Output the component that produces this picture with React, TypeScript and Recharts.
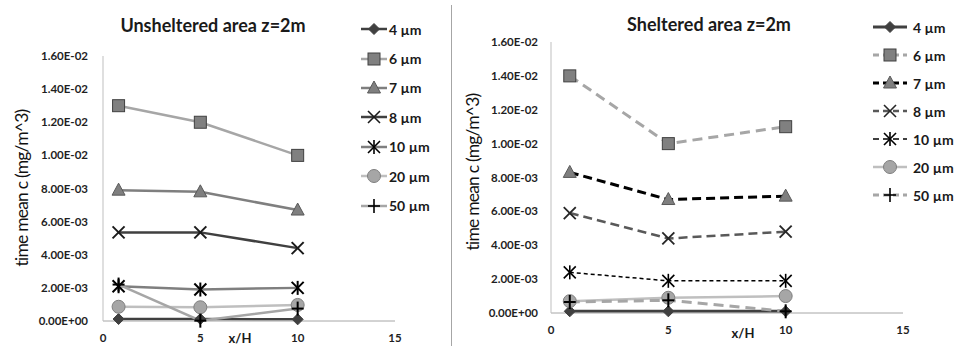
import React from 'react';
import { LineChart, Line, XAxis, YAxis, Legend } from 'recharts';

// x/H positions of the sampling points
const xValues = [0.8, 5, 10];
const sizeLabels = ['4 µm', '6 µm', '7 µm', '8 µm', '10 µm', '20 µm', '50 µm'];

const xTicks = [0, 5, 10, 15];
const yTicks = [0, 0.002, 0.004, 0.006, 0.008, 0.01, 0.012, 0.014, 0.016];

// unsheltered area, z = 2 m
const unsheltered4 = [0.00012, 0.00012, 0.0001];
const unsheltered6 = [0.013, 0.012, 0.01];
const unsheltered7 = [0.0079, 0.0078, 0.0067];
const unsheltered8 = [0.00535, 0.00535, 0.0044];
const unsheltered10 = [0.0021, 0.0019, 0.002];
const unsheltered20 = [0.00086, 0.00083, 0.00097];
const unsheltered50 = [0.0022, 0.00002, 0.00075];

// sheltered area, z = 2 m
const sheltered4 = [0.0001, 0.0001, 0.0001];
const sheltered6 = [0.014, 0.01, 0.011];
const sheltered7 = [0.0083, 0.0067, 0.0069];
const sheltered8 = [0.0059, 0.0044, 0.0048];
const sheltered10 = [0.0024, 0.0019, 0.0019];
const sheltered20 = [0.0007, 0.0009, 0.001];
const sheltered50 = [0.00065, 0.00075, 0.0001];

type Shape = 'diamond' | 'square' | 'triangle' | 'x' | 'star' | 'circle' | 'plus';

interface SeriesStyle {
  stroke: string;
  width: number;
  dash?: string;
  shape: Shape;
  fill: string;
  edge: string;
  markW?: number;
}

const unshelteredStyles: SeriesStyle[] = [
  { stroke: '#404040', width: 2.5, shape: 'diamond', fill: '#404040', edge: '#404040' },
  { stroke: '#a6a6a6', width: 2.5, shape: 'square', fill: '#808080', edge: '#404040' },
  { stroke: '#7f7f7f', width: 2.5, shape: 'triangle', fill: '#7f7f7f', edge: '#595959' },
  { stroke: '#404040', width: 2.5, shape: 'x', fill: 'none', edge: '#1a1a1a', markW: 2 },
  { stroke: '#7f7f7f', width: 2.5, shape: 'star', fill: 'none', edge: '#000', markW: 2 },
  { stroke: '#bfbfbf', width: 2.5, shape: 'circle', fill: '#a6a6a6', edge: '#7f7f7f' },
  { stroke: '#a6a6a6', width: 2.5, shape: 'plus', fill: 'none', edge: '#000', markW: 2 },
];

const shelteredStyles: SeriesStyle[] = [
  { stroke: '#404040', width: 3, shape: 'diamond', fill: '#404040', edge: '#404040' },
  { stroke: '#a6a6a6', width: 3, dash: '10 6', shape: 'square', fill: '#808080', edge: '#404040' },
  { stroke: '#000', width: 3, dash: '9 5', shape: 'triangle', fill: '#7f7f7f', edge: '#595959' },
  { stroke: '#595959', width: 2.5, dash: '9 5', shape: 'x', fill: 'none', edge: '#262626', markW: 1.8 },
  { stroke: '#000', width: 1.5, dash: '4 3', shape: 'star', fill: 'none', edge: '#000', markW: 1.6 },
  { stroke: '#bfbfbf', width: 2.5, shape: 'circle', fill: '#a6a6a6', edge: '#7f7f7f' },
  { stroke: '#a6a6a6', width: 3, dash: '10 6', shape: 'plus', fill: 'none', edge: '#000', markW: 2 },
];

const keys = ['d4', 'd6', 'd7', 'd8', 'd10', 'd20', 'd50'];

function buildRows(series: number[][]) {
  return xValues.map((x, i) => {
    const row: Record<string, number> = { x };
    series.forEach((s, j) => {
      row[keys[j]] = s[i];
    });
    return row;
  });
}

const unshelteredRows = buildRows([
  unsheltered4, unsheltered6, unsheltered7, unsheltered8, unsheltered10, unsheltered20, unsheltered50,
]);
const shelteredRows = buildRows([
  sheltered4, sheltered6, sheltered7, sheltered8, sheltered10, sheltered20, sheltered50,
]);

// Excel style scientific labels, e.g. 1.60E-02
function sci(v: number) {
  if (v === 0) return '0.00E+00';
  const [m, e] = v.toExponential(2).split('e');
  const n = parseInt(e, 10);
  return `${m}E${n < 0 ? '-' : '+'}${String(Math.abs(n)).padStart(2, '0')}`;
}

function AxisTick(props: any) {
  const { x, y, payload, textAnchor, vertical } = props;
  const label = vertical ? sci(payload.value) : String(payload.value);
  return (
    <text
      x={x}
      y={y}
      dy={vertical ? '0.35em' : '0.75em'}
      textAnchor={textAnchor}
      fill="#1f1f1f"
      fontSize={11.5}
      fontWeight={700}
    >
      {label}
    </text>
  );
}

function Marker({ cx, cy, s }: { cx: number; cy: number; s: SeriesStyle }) {
  const w = s.markW ?? 1;
  switch (s.shape) {
    case 'diamond':
      return (
        <polygon
          points={`${cx},${cy - 5.5} ${cx + 5.5},${cy} ${cx},${cy + 5.5} ${cx - 5.5},${cy}`}
          fill={s.fill}
          stroke={s.edge}
        />
      );
    case 'square':
      return <rect x={cx - 6} y={cy - 6} width={12} height={12} fill={s.fill} stroke={s.edge} />;
    case 'triangle':
      return (
        <polygon
          points={`${cx},${cy - 7} ${cx + 6.5},${cy + 5} ${cx - 6.5},${cy + 5}`}
          fill={s.fill}
          stroke={s.edge}
        />
      );
    case 'circle':
      return <circle cx={cx} cy={cy} r={6.5} fill={s.fill} stroke={s.edge} />;
    case 'x':
      return (
        <g stroke={s.edge} strokeWidth={w}>
          <line x1={cx - 6} y1={cy - 6} x2={cx + 6} y2={cy + 6} />
          <line x1={cx - 6} y1={cy + 6} x2={cx + 6} y2={cy - 6} />
        </g>
      );
    case 'star':
      return (
        <g stroke={s.edge} strokeWidth={w}>
          <line x1={cx - 6} y1={cy - 6} x2={cx + 6} y2={cy + 6} />
          <line x1={cx - 6} y1={cy + 6} x2={cx + 6} y2={cy - 6} />
          <line x1={cx} y1={cy - 7} x2={cx} y2={cy + 7} />
        </g>
      );
    case 'plus':
    default:
      return (
        <g stroke={s.edge} strokeWidth={w}>
          <line x1={cx - 6} y1={cy} x2={cx + 6} y2={cy} />
          <line x1={cx} y1={cy - 7} x2={cx} y2={cy + 7} />
        </g>
      );
  }
}

function LegendList({ styles, lineLen, rowH, fontSize }: {
  styles: SeriesStyle[];
  lineLen: number;
  rowH: number;
  fontSize: number;
}) {
  return (
    <div>
      {styles.map((s, i) => (
        <div key={sizeLabels[i]} style={{ display: 'flex', alignItems: 'center', height: rowH }}>
          <svg width={lineLen} height={16} style={{ display: 'block' }}>
            <line
              x1={0}
              y1={8}
              x2={lineLen}
              y2={8}
              stroke={s.stroke}
              strokeWidth={s.width}
              strokeDasharray={s.dash ? '6 4' : undefined}
            />
            <Marker cx={lineLen / 2} cy={8} s={{ ...s, markW: Math.min(s.markW ?? 1, 1.6) }} />
          </svg>
          <span style={{ marginLeft: lineLen > 30 ? 6 : 2, fontSize, fontWeight: 700, color: '#1a1a1a' }}>
            {sizeLabels[i]}
          </span>
        </div>
      ))}
    </div>
  );
}

interface PanelProps {
  rows: Record<string, number>[];
  styles: SeriesStyle[];
  width: number;
  margin: { top: number; right: number; bottom: number; left: number };
  xAxisHeight: number;
  yTickGap: number;
  legendPos: { left: number; top: number };
  legendLine: number;
  legendRow: number;
}

function Panel({ rows, styles, width, margin, xAxisHeight, yTickGap, legendPos, legendLine, legendRow }: PanelProps) {
  return (
    <LineChart width={width} height={346} data={rows} margin={margin}>
      <XAxis
        type="number"
        dataKey="x"
        domain={[0, 15]}
        ticks={xTicks}
        interval={0}
        tickLine={false}
        tickSize={0}
        tickMargin={12}
        height={xAxisHeight}
        axisLine={{ stroke: '#a6a6a6' }}
        tick={<AxisTick />}
      />
      <YAxis
        type="number"
        domain={[0, 0.016]}
        ticks={yTicks}
        interval={0}
        tickLine={false}
        tickSize={0}
        tickMargin={yTickGap}
        width={60}
        axisLine={{ stroke: '#bfbfbf' }}
        tick={<AxisTick vertical />}
      />
      <Legend
        layout="vertical"
        align="center"
        verticalAlign="middle"
        wrapperStyle={{ left: legendPos.left, top: legendPos.top, width: 90, height: legendRow * 7 }}
        content={() => <LegendList styles={styles} lineLen={legendLine} rowH={legendRow} fontSize={14} />}
      />
      {styles.map((s, i) => (
        <Line
          key={keys[i]}
          type="linear"
          dataKey={keys[i]}
          name={sizeLabels[i]}
          stroke={s.stroke}
          strokeWidth={s.width}
          strokeDasharray={s.dash}
          activeDot={false}
          isAnimationActive={false}
          dot={(p: any) => <Marker key={`${keys[i]}-${p.index}`} cx={p.cx} cy={p.cy} s={s} />}
        />
      ))}
    </LineChart>
  );
}

const abs = (left: number, top: number): React.CSSProperties => ({ position: 'absolute', left, top, whiteSpace: 'nowrap' });

const axisTitle: React.CSSProperties = {
  transform: 'translate(-50%, -50%) rotate(-90deg)',
  fontSize: 17.5,
  letterSpacing: -0.8,
  color: '#111',
};

export default function App() {
  return (
    <div
      style={{
        position: 'absolute',
        left: 0,
        top: 0,
        width: 957,
        height: 346,
        background: '#fff',
        fontFamily: 'Lato, "Open Sans", sans-serif',
        color: '#1a1a1a',
      }}
    >
      <div style={{ position: 'absolute', left: 0, top: 0 }}>
        <Panel
          rows={unshelteredRows}
          styles={unshelteredStyles}
          width={452}
          margin={{ top: 56, right: 57, bottom: 0, left: 43 }}
          xAxisHeight={25}
          yTickGap={15}
          legendPos={{ left: 361, top: 14.5 }}
          legendLine={26}
          legendRow={29.4}
        />
      </div>
      <div style={{ position: 'absolute', left: 452, top: 0 }}>
        <Panel
          rows={shelteredRows}
          styles={shelteredStyles}
          width={505}
          margin={{ top: 42, right: 54, bottom: 0, left: 39 }}
          xAxisHeight={33}
          yTickGap={13}
          legendPos={{ left: 421, top: 13 }}
          legendLine={34}
          legendRow={28}
        />
      </div>

      {/* panel divider */}
      <div style={{ position: 'absolute', left: 451, top: 5, width: 1, height: 341, background: '#a6a6a6' }} />

      {/* titles */}
      <div style={{ ...abs(213, 25), transform: 'translate(-50%, -50%)', fontSize: 18, fontWeight: 700 }}>
        Unsheltered area z=2m
      </div>
      <div style={{ ...abs(709, 24), transform: 'translate(-50%, -50%)', fontSize: 18, fontWeight: 700 }}>
        Sheltered area z=2m
      </div>

      {/* axis titles */}
      <div style={{ ...abs(21, 188), ...axisTitle }}>time mean c (mg/m^3)</div>
      <div style={{ ...abs(472, 172), ...axisTitle }}>time mean c (mg/m^3)</div>
      <div style={{ ...abs(240, 338), transform: 'translate(-50%, -50%)', fontSize: 13, fontWeight: 700 }}>x/H</div>
      <div style={{ ...abs(743, 333), transform: 'translate(-50%, -50%)', fontSize: 13, fontWeight: 700 }}>x/H</div>
    </div>
  );
}
